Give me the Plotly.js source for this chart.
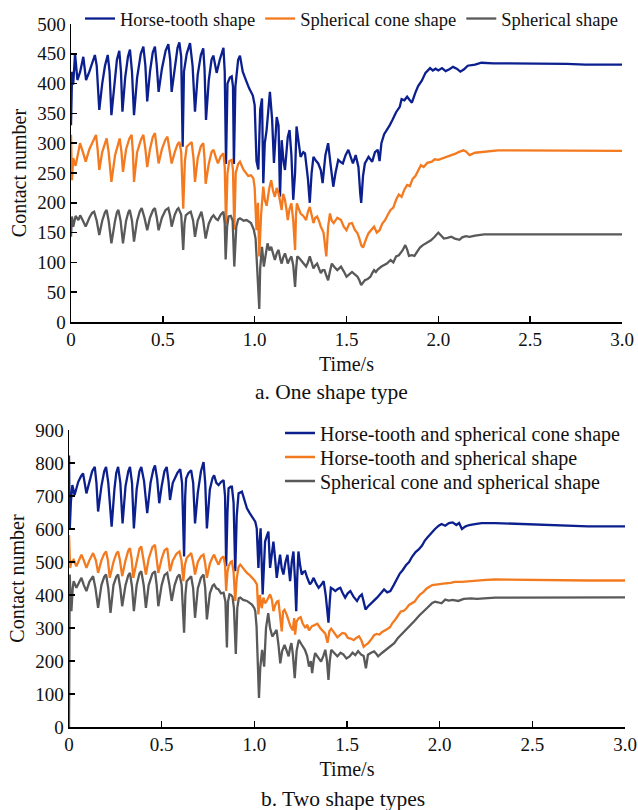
<!DOCTYPE html>
<html>
<head>
<meta charset="utf-8">
<script src="https://cdn.plot.ly/plotly-3.0.1.min.js"></script>
<style>html,body{margin:0;padding:0;background:#fff;}#chart{width:638px;height:810px;}</style>
</head>
<body>
<div id="chart"></div>
<script>
// ---------- Data (time in s, contact number) ----------
const xTickVals = [0, 0.5, 1.0, 1.5, 2.0, 2.5, 3.0];
const xTickText = ['0', '0.5', '1.0', '1.5', '2.0', '2.5', '3.0'];
const yTicksA = [0, 50, 100, 150, 200, 250, 300, 350, 400, 450, 500];
const yTicksB = [0, 100, 200, 300, 400, 500, 600, 700, 800, 900];

const namesA = ['Horse-tooth shape', 'Spherical cone shape', 'Spherical shape'];
const namesB = ['Horse-tooth and spherical cone shape', 'Horse-tooth and spherical shape', 'Spherical cone and spherical shape'];

// a. One shape type
const horseA = [[0,330],[0.006,420],[0.012,398],[0.022,450],[0.035,406],[0.05,420],[0.067,445],[0.082,406],[0.1,420],[0.13,448],
[0.14,430],[0.154,356],[0.17,400],[0.185,430],[0.2,448],[0.21,420],[0.22,347],[0.235,400],[0.25,440],[0.263,455],
[0.272,420],[0.28,353],[0.295,410],[0.31,445],[0.321,457],[0.332,420],[0.343,347],[0.36,410],[0.38,450],[0.394,462],
[0.405,430],[0.415,370],[0.43,420],[0.445,452],[0.457,462],[0.467,430],[0.477,386],[0.495,425],[0.515,455],[0.53,466],
[0.54,440],[0.548,386],[0.565,430],[0.58,460],[0.59,469],[0.6,445],[0.608,294],[0.615,420],[0.63,450],[0.648,468],
[0.662,430],[0.675,353],[0.69,415],[0.707,448],[0.72,459],[0.727,425],[0.735,339],[0.75,405],[0.765,440],[0.775,447],
[0.793,418],[0.81,440],[0.83,460],[0.837,420],[0.844,265],[0.852,400],[0.865,410],[0.875,412],[0.882,395],[0.887,265],
[0.895,395],[0.91,440],[0.92,447],[0.935,420],[0.956,403],[0.97,392],[0.99,380],[1.0,364],[1.01,270],[1.02,256],
[1.03,356],[1.04,375],[1.047,233],[1.055,300],[1.065,322],[1.083,386],[1.095,340],[1.105,267],[1.12,344],[1.13,330],
[1.138,210],[1.147,305],[1.157,270],[1.165,255],[1.18,310],[1.19,322],[1.2,280],[1.21,205],[1.22,250],[1.228,328],
[1.24,300],[1.25,277],[1.265,285],[1.274,283],[1.29,240],[1.3,200],[1.31,250],[1.32,277],[1.335,270],[1.346,266],
[1.36,255],[1.37,233],[1.385,280],[1.4,300],[1.415,260],[1.428,227],[1.44,250],[1.455,272],[1.47,268],[1.48,266],
[1.495,280],[1.51,289],[1.525,275],[1.535,266],[1.55,280],[1.565,260],[1.575,215],[1.58,200],[1.59,245],[1.6,266],
[1.62,277],[1.64,269],[1.655,285],[1.67,289],[1.68,270],[1.69,300],[1.705,315],[1.72,322],[1.735,330],[1.75,339],
[1.77,352],[1.79,361],[1.8,374],[1.815,372],[1.83,378],[1.845,372],[1.856,368],[1.875,385],[1.89,396],[1.91,405],
[1.93,418],[1.955,426],[1.97,422],[1.985,425],[2.0,422],[2.02,426],[2.04,421],[2.06,424],[2.08,428],[2.1,425],
[2.12,420],[2.14,424],[2.16,430],[2.2,432],[2.235,435],[2.3,434],[2.4,434],[2.5,434],[2.6,433],[2.7,433],
[2.8,432],[2.9,432],[3.0,432]];

const coneA = [[0,314],[0.005,238],[0.012,275],[0.025,262],[0.04,285],[0.049,300],[0.065,285],[0.08,269],[0.1,290],[0.12,305],
[0.136,314],[0.145,290],[0.154,255],[0.17,285],[0.185,300],[0.194,308],[0.205,285],[0.22,235],[0.24,280],[0.255,300],
[0.265,308],[0.275,285],[0.283,252],[0.3,290],[0.318,308],[0.33,314],[0.337,285],[0.343,235],[0.36,285],[0.38,305],
[0.394,314],[0.405,290],[0.415,260],[0.43,290],[0.445,310],[0.457,317],[0.467,295],[0.477,266],[0.495,290],[0.513,305],
[0.525,311],[0.537,290],[0.548,266],[0.565,285],[0.58,298],[0.59,302],[0.6,285],[0.611,190],[0.62,270],[0.63,294],
[0.645,298],[0.657,302],[0.667,275],[0.675,235],[0.69,275],[0.707,295],[0.72,300],[0.727,275],[0.733,232],[0.75,265],
[0.765,285],[0.776,289],[0.79,275],[0.8,266],[0.815,278],[0.83,283],[0.837,260],[0.844,165],[0.852,250],[0.862,270],
[0.875,272],[0.882,255],[0.889,155],[0.897,250],[0.91,265],[0.92,269],[0.94,255],[0.965,245],[0.98,246],[0.993,241],
[1.0,225],[1.01,154],[1.018,200],[1.025,110],[1.035,180],[1.047,227],[1.055,205],[1.065,195],[1.08,225],[1.09,238],
[1.1,220],[1.11,210],[1.12,225],[1.13,216],[1.14,200],[1.147,188],[1.155,215],[1.165,205],[1.175,185],[1.18,171],
[1.19,190],[1.2,199],[1.21,170],[1.22,121],[1.225,180],[1.23,199],[1.24,190],[1.25,182],[1.265,178],[1.28,171],
[1.29,185],[1.3,193],[1.31,180],[1.32,166],[1.33,175],[1.34,177],[1.35,170],[1.36,160],[1.375,150],[1.39,110],
[1.4,160],[1.41,182],[1.42,170],[1.43,166],[1.45,175],[1.47,171],[1.485,160],[1.5,154],[1.515,165],[1.53,166],
[1.545,155],[1.56,149],[1.57,140],[1.58,129],[1.59,125],[1.6,135],[1.61,142],[1.62,149],[1.635,155],[1.65,160],
[1.665,150],[1.68,154],[1.695,165],[1.71,171],[1.725,180],[1.74,188],[1.755,192],[1.77,205],[1.785,214],[1.8,210],
[1.815,222],[1.83,230],[1.845,228],[1.86,240],[1.875,245],[1.89,255],[1.905,263],[1.92,260],[1.94,267],[1.965,269],
[1.98,273],[2.0,272],[2.03,275],[2.06,278],[2.09,282],[2.11,285],[2.136,288],[2.15,286],[2.17,280],[2.2,284],
[2.25,286],[2.325,288],[2.4,288],[2.5,288],[2.6,287],[2.7,287],[2.8,288],[2.9,287],[3.0,287]];

const sphereA = [[0,143],[0.005,177],[0.012,160],[0.025,178],[0.04,171],[0.05,179],[0.065,170],[0.08,160],[0.1,175],[0.115,183],
[0.126,185],[0.14,170],[0.154,146],[0.17,170],[0.185,184],[0.194,188],[0.205,170],[0.22,132],[0.24,170],[0.25,184],
[0.258,188],[0.27,170],[0.283,132],[0.3,170],[0.312,184],[0.32,188],[0.332,170],[0.343,135],[0.36,170],[0.375,186],
[0.385,191],[0.4,175],[0.415,154],[0.43,175],[0.447,188],[0.457,191],[0.467,175],[0.477,154],[0.495,175],[0.515,188],
[0.53,191],[0.54,178],[0.548,160],[0.565,180],[0.578,189],[0.585,191],[0.6,180],[0.611,121],[0.618,165],[0.625,179],
[0.64,183],[0.652,185],[0.665,170],[0.675,143],[0.69,170],[0.703,182],[0.71,185],[0.72,170],[0.733,140],[0.75,165],
[0.765,175],[0.776,179],[0.79,173],[0.8,171],[0.815,180],[0.83,185],[0.837,165],[0.842,105],[0.85,160],[0.858,177],
[0.87,178],[0.88,170],[0.889,93],[0.9,160],[0.91,172],[0.92,174],[0.94,170],[0.956,171],[0.97,168],[0.98,166],
[0.995,155],[1.005,140],[1.012,100],[1.02,60],[1.025,22],[1.03,90],[1.04,126],[1.05,93],[1.058,110],[1.07,132],
[1.08,120],[1.09,126],[1.1,115],[1.11,104],[1.12,115],[1.13,121],[1.14,105],[1.147,98],[1.155,108],[1.165,115],
[1.175,105],[1.18,98],[1.19,105],[1.2,110],[1.21,95],[1.22,59],[1.226,90],[1.232,110],[1.24,108],[1.25,104],
[1.265,98],[1.28,93],[1.29,100],[1.3,110],[1.31,100],[1.32,90],[1.33,95],[1.34,98],[1.35,90],[1.36,82],
[1.37,87],[1.38,87],[1.39,78],[1.4,70],[1.41,85],[1.42,98],[1.435,92],[1.45,87],[1.46,90],[1.47,93],
[1.485,85],[1.5,76],[1.515,80],[1.53,84],[1.545,80],[1.56,76],[1.57,70],[1.58,62],[1.59,66],[1.6,70],
[1.615,72],[1.63,76],[1.64,82],[1.65,87],[1.66,84],[1.67,88],[1.69,93],[1.705,95],[1.72,98],[1.74,104],
[1.755,100],[1.77,110],[1.785,112],[1.805,120],[1.82,129],[1.83,122],[1.84,111],[1.855,112],[1.87,111],[1.885,118],
[1.9,125],[1.916,129],[1.935,132],[1.96,137],[1.98,143],[2.0,150],[2.015,145],[2.03,140],[2.05,141],[2.07,143],
[2.09,140],[2.115,138],[2.13,142],[2.15,144],[2.17,143],[2.2,145],[2.25,147],[2.3,147],[2.4,147],[2.5,147],
[2.6,147],[2.7,147],[2.8,147],[2.9,147],[3.0,147]];

// b. Two shape types
const horseConeB = [[0,823],[0.004,597],[0.01,680],[0.018,733],[0.03,703],[0.05,743],[0.065,760],[0.076,768],[0.094,708],[0.11,740],
[0.125,775],[0.139,788],[0.148,740],[0.157,653],[0.175,730],[0.19,775],[0.2,788],[0.212,740],[0.23,607],[0.245,720],
[0.255,770],[0.265,788],[0.277,740],[0.289,617],[0.305,730],[0.32,775],[0.329,788],[0.34,740],[0.35,602],[0.365,720],
[0.38,775],[0.39,788],[0.405,745],[0.422,648],[0.44,740],[0.455,780],[0.464,793],[0.476,750],[0.487,678],[0.5,730],
[0.515,775],[0.527,788],[0.537,745],[0.545,688],[0.56,740],[0.585,770],[0.6,781],[0.61,740],[0.621,517],[0.627,700],
[0.632,753],[0.645,770],[0.659,778],[0.67,740],[0.68,617],[0.695,710],[0.712,775],[0.726,803],[0.735,740],[0.744,602],
[0.76,720],[0.775,755],[0.783,763],[0.795,740],[0.807,733],[0.82,742],[0.834,748],[0.842,700],[0.848,487],[0.855,650],
[0.861,723],[0.872,728],[0.879,728],[0.888,680],[0.897,472],[0.905,640],[0.915,708],[0.933,713],[0.945,690],[0.96,663],
[0.975,648],[0.987,638],[1.005,622],[1.013,602],[1.022,482],[1.028,560],[1.034,602],[1.045,402],[1.058,562],[1.068,580],
[1.076,592],[1.085,482],[1.095,530],[1.103,562],[1.112,510],[1.121,452],[1.13,490],[1.139,522],[1.148,480],[1.157,462],
[1.168,500],[1.179,522],[1.186,480],[1.193,442],[1.202,500],[1.211,532],[1.219,450],[1.226,351],[1.232,460],[1.238,532],
[1.247,490],[1.256,462],[1.265,470],[1.274,472],[1.287,450],[1.3,432],[1.31,440],[1.32,452],[1.333,435],[1.347,422],
[1.36,430],[1.374,442],[1.385,400],[1.393,340],[1.4,316],[1.407,380],[1.413,422],[1.425,418],[1.437,412],[1.45,418],
[1.464,422],[1.477,405],[1.49,392],[1.504,405],[1.518,412],[1.535,395],[1.554,382],[1.567,395],[1.58,402],[1.59,380],
[1.6,356],[1.613,365],[1.626,371],[1.644,382],[1.662,392],[1.68,405],[1.7,417],[1.717,408],[1.734,412],[1.752,430],
[1.77,452],[1.785,465],[1.8,475],[1.818,490],[1.835,500],[1.85,515],[1.87,530],[1.887,538],[1.905,550],[1.92,565],
[1.935,575],[1.95,585],[1.96,590],[1.975,600],[1.995,610],[2.01,615],[2.03,610],[2.05,618],[2.07,620],[2.09,612],
[2.105,618],[2.12,600],[2.14,608],[2.16,612],[2.19,615],[2.226,618],[2.3,618],[2.4,616],[2.5,612],[2.6,610],
[2.7,610],[2.8,608],[2.9,608],[3.0,608]];

const horseSphereB = [[0,582],[0.006,482],[0.013,500],[0.025,507],[0.04,487],[0.055,505],[0.067,522],[0.08,505],[0.094,482],[0.11,505],
[0.13,527],[0.145,505],[0.157,467],[0.175,505],[0.19,525],[0.2,532],[0.21,505],[0.22,452],[0.24,500],[0.255,525],
[0.265,532],[0.275,505],[0.287,457],[0.305,505],[0.32,535],[0.329,542],[0.338,510],[0.347,452],[0.365,505],[0.38,540],
[0.39,547],[0.4,515],[0.415,462],[0.43,510],[0.45,545],[0.464,552],[0.472,520],[0.482,467],[0.5,510],[0.515,535],
[0.53,542],[0.538,510],[0.545,472],[0.56,505],[0.58,525],[0.596,532],[0.607,505],[0.617,442],[0.625,490],[0.635,512],
[0.648,522],[0.659,527],[0.67,500],[0.68,462],[0.695,500],[0.712,517],[0.726,522],[0.735,495],[0.744,452],[0.76,495],
[0.775,515],[0.783,522],[0.795,505],[0.807,492],[0.82,510],[0.834,517],[0.842,490],[0.848,412],[0.855,470],[0.861,487],
[0.872,500],[0.879,502],[0.888,470],[0.897,382],[0.905,450],[0.915,485],[0.924,492],[0.94,480],[0.96,467],[0.975,460],
[0.987,452],[1.0,445],[1.014,432],[1.022,341],[1.03,400],[1.04,360],[1.049,392],[1.058,375],[1.067,382],[1.076,395],
[1.085,402],[1.095,385],[1.103,351],[1.113,370],[1.122,380],[1.13,382],[1.14,330],[1.148,290],[1.155,350],[1.163,355],
[1.175,340],[1.185,320],[1.195,305],[1.207,293],[1.215,330],[1.22,280],[1.228,320],[1.24,330],[1.25,333],[1.26,315],
[1.275,300],[1.285,310],[1.295,293],[1.31,305],[1.325,310],[1.34,313],[1.355,300],[1.37,292],[1.383,283],[1.395,255],
[1.405,290],[1.415,298],[1.43,285],[1.448,272],[1.465,280],[1.475,285],[1.49,283],[1.505,270],[1.52,268],[1.536,263],
[1.55,270],[1.565,275],[1.578,262],[1.59,243],[1.6,248],[1.613,253],[1.63,265],[1.646,278],[1.66,282],[1.675,280],
[1.69,288],[1.705,292],[1.72,298],[1.733,303],[1.745,315],[1.76,325],[1.777,339],[1.79,350],[1.805,352],[1.82,359],
[1.835,370],[1.85,375],[1.865,380],[1.88,392],[1.895,402],[1.91,408],[1.93,420],[1.96,430],[1.98,432],[2.0,434],
[2.03,435],[2.06,437],[2.08,440],[2.12,440],[2.16,442],[2.19,445],[2.25,446],[2.3,447],[2.4,446],[2.5,446],
[2.6,445],[2.7,445],[2.8,444],[2.9,444],[3.0,444]];

const coneSphereB = [[0,0],[0.004,462],[0.008,400],[0.013,351],[0.02,420],[0.025,442],[0.04,422],[0.055,440],[0.067,452],[0.08,430],
[0.094,412],[0.11,440],[0.122,452],[0.13,457],[0.143,420],[0.157,361],[0.175,430],[0.19,455],[0.2,462],[0.212,420],
[0.224,346],[0.24,430],[0.255,455],[0.265,462],[0.277,420],[0.287,366],[0.305,430],[0.32,460],[0.329,467],[0.34,425],
[0.35,351],[0.365,430],[0.38,465],[0.39,472],[0.403,430],[0.415,361],[0.43,430],[0.45,465],[0.464,472],[0.473,430],
[0.482,366],[0.5,430],[0.515,460],[0.53,467],[0.542,430],[0.554,382],[0.57,430],[0.585,455],[0.596,462],[0.608,430],
[0.621,286],[0.628,400],[0.635,442],[0.648,450],[0.659,457],[0.67,420],[0.68,331],[0.695,420],[0.712,452],[0.726,462],
[0.735,420],[0.744,326],[0.76,405],[0.775,428],[0.783,432],[0.795,420],[0.807,417],[0.82,405],[0.834,407],[0.844,380],
[0.852,241],[0.858,380],[0.866,402],[0.874,400],[0.882,395],[0.89,360],[0.9,221],[0.908,360],[0.916,390],[0.924,392],
[0.94,385],[0.96,382],[0.975,376],[0.987,371],[1.0,360],[1.005,351],[1.012,304],[1.018,200],[1.025,88],[1.032,180],
[1.042,234],[1.053,183],[1.063,300],[1.075,345],[1.085,300],[1.097,274],[1.11,285],[1.12,294],[1.13,250],[1.14,193],
[1.15,230],[1.163,249],[1.172,235],[1.185,214],[1.193,240],[1.2,254],[1.208,220],[1.218,148],[1.228,230],[1.24,264],
[1.255,250],[1.273,234],[1.285,215],[1.295,183],[1.305,200],[1.312,163],[1.32,200],[1.328,224],[1.345,210],[1.36,198],
[1.372,215],[1.383,234],[1.392,200],[1.4,143],[1.407,200],[1.415,234],[1.43,225],[1.448,214],[1.465,225],[1.48,220],
[1.497,208],[1.514,214],[1.53,225],[1.545,218],[1.56,230],[1.575,220],[1.59,215],[1.602,178],[1.608,200],[1.613,219],
[1.63,225],[1.646,229],[1.658,222],[1.668,214],[1.69,225],[1.712,234],[1.73,242],[1.755,254],[1.775,270],[1.8,284],
[1.82,295],[1.843,309],[1.865,322],[1.89,338],[1.91,350],[1.935,362],[1.96,376],[1.975,380],[1.99,378],[2.01,375],
[2.03,386],[2.05,383],[2.07,385],[2.1,382],[2.13,388],[2.17,390],[2.2,388],[2.26,390],[2.3,392],[2.4,392],
[2.5,392],[2.6,392],[2.7,392],[2.8,392],[2.9,392],[3.0,393]];

// ---------- Styling ----------
const FONT = 'Liberation Serif, Times New Roman, serif';
const colors = ['#0b1f8e', '#f47a1f', '#595959'];

function mk(series, name, color, xa, ya, leg) {
  return {
    type: 'scatter', mode: 'lines', name: name,
    x: series.map(p => p[0]), y: series.map(p => p[1]),
    xaxis: xa, yaxis: ya, legend: leg,
    line: { color: color, width: 2.3 },
    hoverinfo: 'skip'
  };
}

const traces = [
  mk(horseA, namesA[0], colors[0], 'x', 'y', 'legend'),
  mk(coneA, namesA[1], colors[1], 'x', 'y', 'legend'),
  mk(sphereA, namesA[2], colors[2], 'x', 'y', 'legend'),
  mk(horseConeB, namesB[0], colors[0], 'x2', 'y2', 'legend2'),
  mk(horseSphereB, namesB[1], colors[1], 'x2', 'y2', 'legend3'),
  mk(coneSphereB, namesB[2], colors[2], 'x2', 'y2', 'legend4')
];

const W = 638, H = 810;
const TXT = '#111';
const tickFont = { family: FONT, size: 19, color: TXT };
const titleFont = { family: FONT, size: 20, color: TXT };
const capFont = { family: FONT, size: 21.5, color: TXT };

function xAxis(domain, anchor) {
  return {
    domain: domain, anchor: anchor, range: [0, 3], showgrid: false, zeroline: false,
    showline: true, linecolor: '#000', linewidth: 1.5, ticks: 'inside', ticklen: 6, tickwidth: 1.5, tickcolor: '#000',
    tickmode: 'array', tickvals: xTickVals, ticktext: xTickText, tickfont: tickFont,
    title: { text: 'Time/s', font: titleFont, standoff: 7 }
  };
}
function yAxis(domain, anchor, range, ticks) {
  return {
    domain: domain, anchor: anchor, range: range, showgrid: false, zeroline: false,
    showline: true, linecolor: '#000', linewidth: 1.5, ticks: 'inside', ticklen: 6, tickwidth: 1.5, tickcolor: '#000',
    tickmode: 'array', tickvals: ticks, tickfont: tickFont,
    title: { text: 'Contact number', font: titleFont, standoff: 5 }
  };
}
function rowLegend(yPix) {
  return {
    orientation: 'v', x: 280 / W, y: 1 - yPix / H, xanchor: 'left', yanchor: 'middle',
    font: { family: FONT, size: 20, color: TXT }, bgcolor: 'rgba(0,0,0,0)'
  };
}

const layout = {
  width: W, height: H,
  margin: { l: 0, r: 0, t: 0, b: 0 },
  paper_bgcolor: '#fff', plot_bgcolor: '#fff',
  showlegend: true,
  xaxis: xAxis([71 / W, 622 / W], 'y'),
  yaxis: yAxis([1 - 322 / H, 1 - 24 / H], 'x', [0, 500], yTicksA),
  xaxis2: xAxis([69 / W, 625 / W], 'y2'),
  yaxis2: yAxis([1 - 727 / H, 1 - 430 / H], 'x2', [0, 900], yTicksB),
  legend: {
    orientation: 'h', x: 80 / W, y: 1, xanchor: 'left', yanchor: 'top',
    font: { family: FONT, size: 18.5, color: TXT }, bgcolor: 'rgba(0,0,0,0)',
    itemwidth: 30, tracegroupgap: 0
  },
  legend2: rowLegend(433),
  legend3: rowLegend(457),
  legend4: rowLegend(481),
  annotations: [
    { text: 'a. One shape type', xref: 'paper', yref: 'paper', x: 331 / W, y: 1 - 392 / H,
      xanchor: 'center', yanchor: 'middle', showarrow: false, font: capFont },
    { text: 'b. Two shape types', xref: 'paper', yref: 'paper', x: 343 / W, y: 1 - 799 / H,
      xanchor: 'center', yanchor: 'middle', showarrow: false, font: capFont }
  ]
};

Plotly.newPlot('chart', traces, layout, { displayModeBar: false, staticPlot: true });
</script>
</body>
</html>
